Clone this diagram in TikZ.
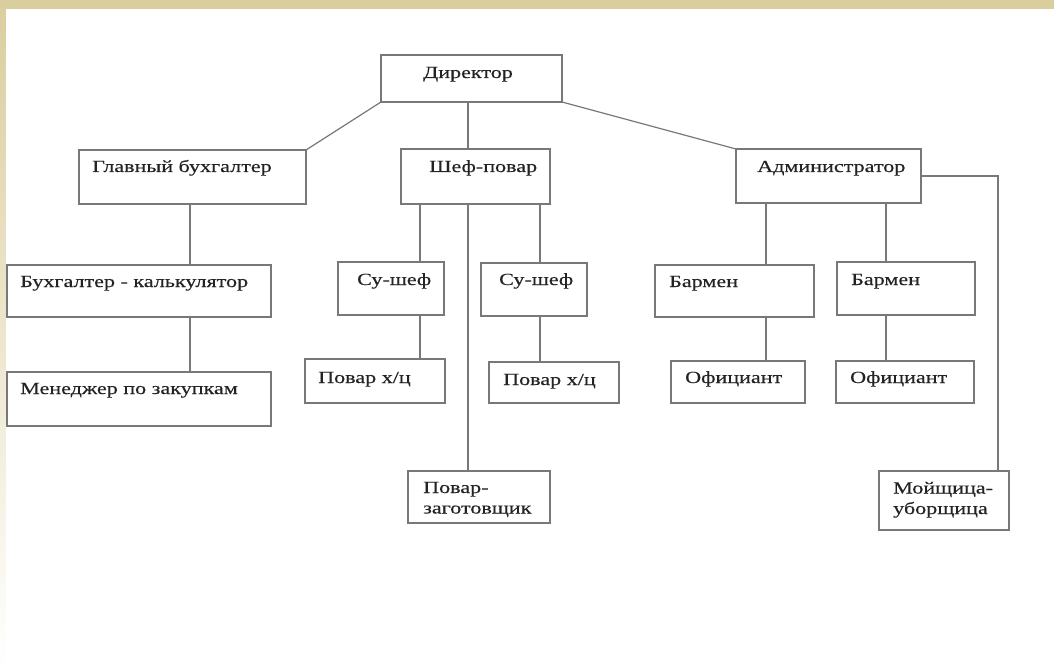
\documentclass[tikz,border=0pt]{standalone}
\usepackage{fontspec}
\setmainfont{Liberation Serif}[FakeStretch=1.3,FakeBold=0.3]
\definecolor{beige}{RGB}{218,206,158}
\definecolor{linegray}{RGB}{120,120,120}
\definecolor{txtcol}{RGB}{35,35,35}
\begin{document}
\begin{tikzpicture}[x=1pt,y=-1pt,
  box/.style={draw=linegray, line width=1.3pt, inner sep=0pt, outer sep=0pt, anchor=north west},
  txt/.style={anchor=base west, inner sep=0pt, text=txtcol, align=left, font=\fontsize{17}{20.5}\selectfont},
  link/.style={draw=linegray, line width=1.2pt}]
% background
\useasboundingbox (0,0) rectangle (1054,671);
\fill[beige] (0,0) rectangle (1054,9);
\shade[top color=beige, bottom color=white] (0,0) rectangle (6,671);
\fill[white] (6,9) rectangle (1054,671);
% boxes
\node[box, minimum width=181pt, minimum height=47pt] (dir) at (381,55) {};
\node[box, minimum width=227pt, minimum height=54pt] (gb) at (79,150) {};
\node[box, minimum width=149pt, minimum height=55pt] (chef) at (401,149) {};
\node[box, minimum width=185pt, minimum height=54pt] (adm) at (736,149) {};
\node[box, minimum width=264pt, minimum height=52pt] (bk) at (7,265) {};
\node[box, minimum width=264pt, minimum height=54pt] (mz) at (7,372) {};
\node[box, minimum width=106pt, minimum height=53pt] (ss1) at (338,262) {};
\node[box, minimum width=106pt, minimum height=53pt] (ss2) at (481,263) {};
\node[box, minimum width=140pt, minimum height=44pt] (px1) at (305,359) {};
\node[box, minimum width=130pt, minimum height=41pt] (px2) at (489,362) {};
\node[box, minimum width=159pt, minimum height=52pt] (bar1) at (655,265) {};
\node[box, minimum width=138pt, minimum height=53pt] (bar2) at (837,262) {};
\node[box, minimum width=134pt, minimum height=42pt] (of1) at (671,361) {};
\node[box, minimum width=138pt, minimum height=42pt] (of2) at (836,361) {};
\node[box, minimum width=142pt, minimum height=52pt] (pz) at (408,471) {};
\node[box, minimum width=130pt, minimum height=59pt] (mu) at (879,471) {};
% texts
\node[txt] (dir-t) at ([shift={(42,23)}]dir.north west) {Директор};
\node[txt] (gb-t) at ([shift={(13,22)}]gb.north west) {Главный бухгалтер};
\node[txt] (chef-t) at ([shift={(28,23)}]chef.north west) {Шеф-повар};
\node[txt] (adm-t) at ([shift={(21,23)}]adm.north west) {Администратор};
\node[txt] (bk-t) at ([shift={(13,22)}]bk.north west) {Бухгалтер - калькулятор};
\node[txt] (mz-t) at ([shift={(13,22)}]mz.north west) {Менеджер по закупкам};
\node[txt] (ss1-t) at ([shift={(19,23)}]ss1.north west) {Су-шеф};
\node[txt] (ss2-t) at ([shift={(18,22)}]ss2.north west) {Су-шеф};
\node[txt] (px1-t) at ([shift={(13,24)}]px1.north west) {Повар х/ц};
\node[txt] (px2-t) at ([shift={(14,23)}]px2.north west) {Повар х/ц};
\node[txt] (bar1-t) at ([shift={(14,22)}]bar1.north west) {Бармен};
\node[txt] (bar2-t) at ([shift={(14,23)}]bar2.north west) {Бармен};
\node[txt] (of1-t) at ([shift={(14,22)}]of1.north west) {Официант};
\node[txt] (of2-t) at ([shift={(14,22)}]of2.north west) {Официант};
\node[txt] (pz-t) at ([shift={(15,42.5)}]pz.north west) {Повар-\\заготовщик};
\node[txt] (mu-t) at ([shift={(14,43)}]mu.north west) {Мойщица-\\уборщица};
% connectors
\draw[link] (dir.south west) -- (gb.north east);
\draw[link] (dir.south east) -- (adm.north west);
\draw[link] ([xshift=67pt]chef.north west) -- ([xshift=67pt]chef.north west |- dir.south);
\draw[link] ([xshift=111pt]gb.south west) -- ([xshift=111pt]gb.south west |- bk.north);
\draw[link] ([xshift=183pt]bk.south west) -- ([xshift=183pt]bk.south west |- mz.north);
\draw[link] ([xshift=19pt]chef.south west) -- ([xshift=19pt]chef.south west |- ss1.north);
\draw[link] ([xshift=67pt]chef.south west) -- ([xshift=67pt]chef.south west |- pz.north);
\draw[link] ([xshift=139pt]chef.south west) -- ([xshift=139pt]chef.south west |- ss2.north);
\draw[link] ([xshift=82pt]ss1.south west) -- ([xshift=82pt]ss1.south west |- px1.north);
\draw[link] ([xshift=59pt]ss2.south west) -- ([xshift=59pt]ss2.south west |- px2.north);
\draw[link] ([xshift=30pt]adm.south west) -- ([xshift=30pt]adm.south west |- bar1.north);
\draw[link] ([xshift=150pt]adm.south west) -- ([xshift=150pt]adm.south west |- bar2.north);
\draw[link] ([xshift=111pt]bar1.south west) -- ([xshift=111pt]bar1.south west |- of1.north);
\draw[link] ([xshift=49pt]bar2.south west) -- ([xshift=49pt]bar2.south west |- of2.north);
\draw[link] (adm.east) -| ([xshift=119pt]mu.north west);
\end{tikzpicture}
\end{document}
